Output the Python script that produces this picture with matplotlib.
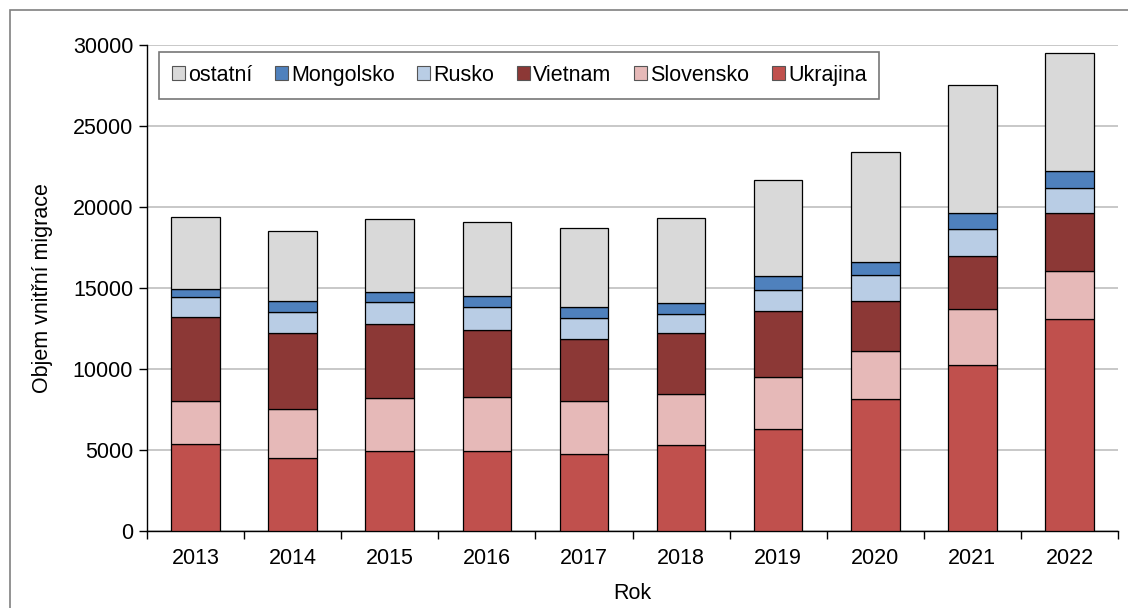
import numpy as np
import matplotlib
matplotlib.use("Agg")
from matplotlib import pyplot as plt
from matplotlib.patches import Rectangle

plt.rcParams['font.family'] = ['Liberation Sans', 'DejaVu Sans']

years = ['2013', '2014', '2015', '2016', '2017', '2018', '2019', '2020', '2021', '2022']
ukrajina = [5370, 4520, 4940, 4940, 4750, 5310, 6320, 8150, 10270, 13090]
slovensko = [2655, 2990, 3250, 3350, 3260, 3150, 3170, 2940, 3450, 2980]
vietnam = [5185, 4690, 4570, 4100, 3840, 3740, 4110, 3130, 3260, 3540]
rusko = [1230, 1340, 1390, 1460, 1280, 1200, 1280, 1560, 1640, 1540]
mongolsko = [500, 680, 580, 640, 680, 670, 860, 850, 990, 1070]
ostatni = [4440, 4280, 4550, 4580, 4870, 5250, 5950, 6770, 7920, 7270]

series = [
    ('Ukrajina', ukrajina, '#C0504D'),
    ('Slovensko', slovensko, '#E6B9B8'),
    ('Vietnam', vietnam, '#8C3836'),
    ('Rusko', rusko, '#B9CDE5'),
    ('Mongolsko', mongolsko, '#4F81BD'),
    ('ostatní', ostatni, '#D9D9D9'),
]

fig = plt.figure(figsize=(11.28, 6.08), dpi=100)
ax = fig.add_axes([147 / 1128, 1 - 531 / 608, (1118 - 147) / 1128, (531 - 45) / 608])

# frame around the whole chart (cropped at right/bottom)
fig.patches.append(Rectangle((10 / 1128, -0.1), 1.2, 1 - 10.5 / 608 + 0.1,
                             transform=fig.transFigure, fill=False,
                             edgecolor='#808080', linewidth=1.2))

x = np.arange(len(years))
bottom = np.zeros(len(years))
handles = {}
for name, vals, col in series:
    b = ax.bar(x, vals, width=0.5, bottom=bottom, color=col,
               edgecolor='black', linewidth=0.9, label=name, zorder=3)
    handles[name] = b
    bottom += np.array(vals)

ax.set_xlim(-0.5, len(years) - 0.5)
ax.set_ylim(0, 30000)
ax.set_yticks(np.arange(0, 30001, 5000))
ax.set_xticks(x)
ax.set_xticklabels(years)
ax.set_xticks(np.arange(-0.5, len(years), 1), minor=True)
ax.tick_params(axis='x', which='major', length=0, labelsize=15.5, pad=12)
ax.tick_params(axis='x', which='minor', length=6, width=1, direction='out')
ax.tick_params(axis='y', length=6, width=1, labelsize=15.5, pad=4)

ax.grid(axis='y', color='#BFBFBF', linewidth=1.2, zorder=0)
ax.spines['top'].set_visible(False)
ax.spines['right'].set_visible(False)
ax.spines['left'].set_linewidth(1)
ax.spines['bottom'].set_linewidth(1)

ax.set_ylabel('Objem vnitřní migrace', fontsize=15.5, labelpad=14)
ax.set_xlabel('Rok', fontsize=15.5, labelpad=10)

order = ['ostatní', 'Mongolsko', 'Rusko', 'Vietnam', 'Slovensko', 'Ukrajina']
leg = ax.legend([handles[n] for n in order], order, ncol=6, loc='upper left',
                bbox_to_anchor=(12 / 971, 1 - 7 / 486), fontsize=15.5,
                frameon=True, fancybox=False, edgecolor='#555555',
                handlelength=0.6, handleheight=0.6, handletextpad=0.15,
                columnspacing=1.05, borderpad=0.6, borderaxespad=0)
leg.get_frame().set_linewidth(1.2)
for h in leg.legend_handles:
    h.set_edgecolor('#555555')
    h.set_linewidth(0.8)

fig.savefig('out.png', dpi=100)
